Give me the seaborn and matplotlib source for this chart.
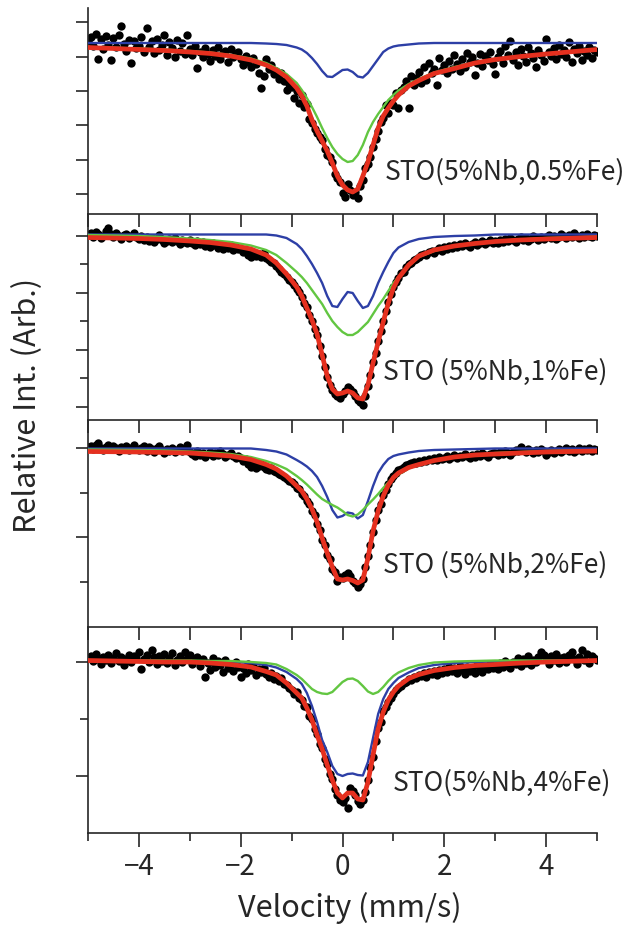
import numpy as np
import matplotlib
matplotlib.use("Agg")
import matplotlib.pyplot as plt
import seaborn as sns
from matplotlib.ticker import MultipleLocator, FixedLocator

sns.set_style("ticks")
plt.rcParams['font.family'] = ['Noto Sans CJK JP', 'DejaVu Sans']

# ---- velocity grids ----
CURVE_V = [-5.0, -4.0, -3.5, -3.0, -2.6, -2.2, -1.8, -1.5, -1.3, -1.1,
           -0.9, -0.8, -0.7, -0.6, -0.5, -0.4, -0.3, -0.2, -0.1, 0.0, 0.1,
           0.2, 0.3, 0.4, 0.5, 0.6, 0.7, 0.8, 0.9, 1.0, 1.1,
           1.3, 1.5, 1.8, 2.2, 2.6, 3.0, 3.5, 4.0, 5.0]
DATA_V = np.round(np.arange(201) * 0.05 - 5.0, 2)

LABELS = ["STO(5%Nb,0.5%Fe)", "STO (5%Nb,1%Fe)", "STO (5%Nb,2%Fe)", "STO(5%Nb,4%Fe)"]

# ---- panel 1 ----
P1_BLUE = [0, 0, 0, 0, 0, 0, 0, -0.5, -1, -2,
           -4.5, -6.5, -10, -15, -21, -28, -33.5, -34, -30.5, -27, -26.5,
           -29, -33.5, -34.5, -30, -23, -16, -9, -5.5, -3.5, -2.5,
           -1.5, -0.5, 0, 0, 0, 0, 0, 0, 0]
P1_GREEN = [-4, -5.5, -6.5, -8, -9.5, -12, -15.5, -20, -25, -31,
            -40, -47, -55, -64, -74, -85, -95, -104, -111, -116, -119,
            -118, -112, -102, -89, -79, -71, -64, -57, -52, -47.5,
            -41, -36, -29.5, -24, -19.5, -16, -13, -10.5, -6]
P1_RED = [-4.5, -6.5, -7.5, -9, -10.5, -13, -17, -22, -27, -34,
          -45, -53, -63, -77, -88, -98, -108, -120, -133, -142, -147,
          -149, -146, -133, -119, -102, -85, -73, -65, -58, -52,
          -43, -37.5, -30.5, -25.5, -20, -16.5, -13.5, -11, -6.5]
P1_DATA = [2, 6, -3, 9, -16, 4, -6, 7, -2, -17, 5, -4, 8, 17, -1, -8, 3, -20, 2, -5,
           -3, 6, -9, 15, -4, 2, -10, 4, -7, -2, 8, -12, 1, -5, -14, 3, -8, 0, -11, 8,
           -6, -12, -3, -25, -9, -14, -5, -11, -18, -7, -13, -4, -16, -10, -8, -19, -6, -14, -11, -9,
           -16, -22, -13, -19, -24, -15, -21, -30, -45, -33, -16, -26, -22, -31, -28, -36, -30, -38, -47, -41,
           -44, -55, -48, -60, -52, -64, -61, -76, -80, -86, -90, -94, -97, -106, -112, -114, -119, -131, -135, -139,
           -150, -154, -141, -147, -152, -149, -155, -143, -137, -125, -121, -114, -104, -96, -88, -79, -75, -62, -70, -60,
           -62, -50, -65, -47, -44, -38, -65, -33, -42, -35, -29, -40, -24, -37, -20, -30, -26, -42, -15, -27,
           -22, -30, -18, -26, -12, -21, -28, -16, -24, -10, -19, -14, -32, -20, -11, -23, -13, -17, -9, -21,
           -31, -14, -8, -20, -3, -12, 2, -17, -9, -22, -6, -13, -19, -4, -10, -15, -24, -7, -12, -18,
           4, -9, -13, -5, -16, -2, -11, -7, -14, 1, -19, -6, -10, -3, -17, -8, -12, -4, -15, -7, -9]

# ---- panel 2 ----
P2_BLUE = [1.5, 1.5, 1.5, 1.5, 1.5, 1.5, 1.5, 1.5, 0.5, -2,
           -8, -13, -20, -28, -37, -47, -60, -70, -71, -63, -56,
           -57, -65, -72, -70, -60, -47, -36, -26, -17, -11.5,
           -6, -3, -1, 0, 0.5, 1.5, 1.5, 1.5, 1.5]
P2_GREEN = [1, 0, -1, -2.5, -4, -6, -9.5, -14, -19, -27,
            -36, -41, -47, -54, -61, -68, -77, -85, -91, -96, -99,
            -99, -96, -91, -86, -78, -70, -63, -55, -47, -41,
            -30, -21, -15, -10, -7, -5, -3.5, -2, -0.7]
P2_RED = [-1.5, -2.5, -3.5, -5, -6.5, -9, -13, -19, -27, -38,
          -51, -60, -72, -84, -98, -119, -140, -153, -158, -157, -155,
          -157, -162, -163, -149, -127, -106, -86, -67, -52, -42,
          -29, -20, -14, -10, -7.5, -5.5, -4, -3, -1.5]
P2_DATA = [1, 3, -1, 4, 2, -2, 0, 5, 8, 2, -1, 3, 0, -3, 1, 2, -2, 0, 3, -1,
           -3, 0, -4, -1, -5, -2, -6, -3, 1, -4, -7, -5, -3, -6, -2, -5, -8, -4, -6, -7,
           -4, -7, -9, -5, -8, -6, -10, -8, -11, -7, -9, -12, -8, -13, -10, -12, -9, -14, -11, -13,
           -13, -16, -14, -19, -21, -17, -20, -18, -21, -17, -22, -24, -26, -27, -30, -33, -36, -38, -41, -44,
           -46, -49, -53, -56, -61, -67, -71, -79, -85, -93, -99, -110, -120, -131, -141, -149, -154, -158, -160, -162,
           -158, -155, -151, -153, -156, -160, -164, -166, -169, -160, -150, -139, -126, -117, -105, -95, -85, -75, -66, -58,
           -51, -46, -42, -37, -36, -31, -28, -27, -24, -23, -21, -19, -18, -19, -16, -15, -17, -14, -12, -15,
           -11, -13, -10, -12, -9, -11, -8, -10, -7, -9, -11, -8, -6, -9, -7, -5, -8, -6, -4, -7,
           -5, -7, -4, -6, -3, -5, -2, -4, -6, -3, -1, -4, -2, -5, -3, 0, -2, -4, -1, -3,
           -1, 1, -2, 0, -3, -1, 2, 0, -2, 1, -1, 3, 0, -2, 1, -1, 2, 0, -1, 1, 0]

# ---- panel 3 ----
P3_BLUE = [-0.5, -0.5, -0.5, -0.5, -0.5, -0.5, -0.5, -2, -3.5, -6.5,
           -12, -15, -18.5, -23, -29, -38, -49, -62, -69.5, -68, -64.5,
           -65.5, -70.5, -67, -53, -38, -25, -17, -11, -8, -6.5,
           -4.5, -3, -2, -1.5, -1, -0.5, -0.5, -0.5, -0.5]
P3_GREEN = [-1.5, -2, -2.5, -3.5, -4.5, -6, -9, -13, -16.5, -21,
            -28, -32, -36.5, -41.5, -46.5, -51, -54, -57, -59.5, -63, -67,
            -68.5, -66.5, -62, -56.5, -51.5, -46, -40, -34.5, -30, -26.5,
            -20.5, -16.5, -12.5, -9, -7, -5, -4, -3, -2]
P3_RED = [-3.5, -4, -4.5, -5, -6.5, -8, -11.5, -16.5, -21, -28,
          -38, -43, -51, -61, -74, -90, -105, -119, -131, -132, -131,
          -132.5, -135, -132, -110, -83, -63, -48, -37, -29.5, -25,
          -19.5, -16.5, -12.5, -9, -7, -6, -5, -4, -3]
P3_DATA = [1, 2, -1, 3, 5, 0, -2, 1, 3, -1, 2, 0, -3, 1, -1, 2, -2, 0, 3, -1,
           -2, 0, 2, -3, 1, -1, -4, 0, 2, -2, -5, -1, -3, 0, -4, -2, 1, -3, 0, 3,
           -4, -6, -8, -3, -7, -5, -9, -6, -4, -8, -5, -7, -3, -6, -9, -7, -5, -8, -10, -8,
           -10, -13, -11, -16, -19, -17, -20, -18, -16, -19, -21, -22, -20, -23, -24, -26, -27, -29, -31, -33,
           -34, -36, -40, -41, -46, -48, -53, -56, -63, -67, -76, -82, -92, -97, -107, -111, -121, -124, -133, -129,
           -130, -127, -125, -128, -133, -135, -139, -136, -131, -119, -108, -97, -84, -72, -62, -56, -47, -42, -36, -31,
           -28, -25, -22, -21, -19, -17, -16, -15, -14, -15, -13, -14, -12, -13, -11, -12, -10, -12, -9, -11,
           -10, -8, -11, -9, -7, -10, -8, -9, -6, -8, -10, -7, -9, -6, -8, -5, -7, -9, -6, -5,
           -5, -7, -4, -6, -3, -5, -7, -4, -2, -3, 1, -2, -4, -1, -3, -5, -2, -4, -1, -3,
           -7, -4, -2, -5, -3, -1, -4, -2, 0, -3, -1, -4, -2, 0, -3, -1, -2, 0, -3, -1, -2]

# ---- panel 4 ----
P4_BLUE = [0.5, 0, 0, -0.5, -0.5, -1, -2, -4, -6.5, -11,
           -18, -23, -32, -45, -61, -79, -91, -105, -113, -115, -113,
           -112.5, -114, -114.5, -101, -77, -53, -38, -28, -22, -17,
           -11.5, -7, -4, -2, -1, -0.5, 0, 0, 0.5]
P4_GREEN = [0.5, 0.5, 0.5, 0.5, 0, 0, -1, -2, -3.5, -8,
            -14, -18, -23, -28, -31, -32.5, -33, -31, -26, -21, -18,
            -17.5, -20, -25, -30.5, -33, -31, -26, -20, -15, -11.5,
            -7, -4, -1.5, -0.5, 0, 0.5, 0.5, 0.5, 0.5]
P4_RED = [0.5, -0.5, -1, -1, -2, -3.5, -6, -10.5, -14, -22,
          -32, -37, -47, -59, -74, -88, -104, -119, -132, -137, -132,
          -132, -138, -139, -121, -94, -68, -51, -39, -31, -25,
          -17.5, -13.5, -9.5, -6.5, -4.5, -3.5, -2, -1, 0.5]
P4_DATA = [3, 5, 0, 7, 2, -3, 4, 1, 6, -2, 3, 8, 0, 4, -4, 2, 6, -1, 5, 3,
           9, -8, 2, 6, -1, 11, 4, -3, 5, 0, 7, -2, 3, 8, -4, 1, 5, -1, 9, 2,
           6, -3, 1, 4, -5, 2, -16, -2, -9, 3, -6, 0, -4, -11, 1, -7, -3, -10, -1, -6,
           -16, -7, -12, -3, -9, -5, -14, -8, -11, -7, -13, -16, -12, -18, -15, -20, -17, -23, -24, -27,
           -29, -33, -31, -37, -39, -45, -46, -55, -58, -68, -73, -83, -87, -98, -103, -113, -118, -128, -134, -139,
           -141, -137, -147, -127, -130, -134, -140, -143, -139, -131, -119, -106, -96, -80, -67, -61, -50, -46, -41, -37,
           -33, -29, -27, -25, -22, -21, -18, -19, -16, -17, -14, -15, -12, -16, -11, -13, -10, -14, -9, -12,
           -8, -11, -6, -10, -7, -12, -5, -9, -13, -6, -10, -8, -12, -4, -9, -11, -6, -8, -3, -7,
           -5, -8, -2, -6, 0, -4, -7, -1, -3, 3, -5, 2, -2, 5, -4, 1, -1, 4, 9, 6,
           2, -3, 5, 1, 7, -2, 3, 4, -1, 6, 9, 2, -3, 4, 11, 1, 7, -2, 5, 3, 1]

# axis ranges / ticks per panel (arbitrary intensity units)
YLIMS = [(-171, 35), (-184, 22), (-179, 28), (-172, 34)]
YMAJ = [[21, -13.5, -48, -82, -117, -151.3], [0.3, -56.7, -114, -170.7], [0, -89], [-0.7, -114.7]]
YMIN = [[], [-28.3, -85, -142.3], [-44.5, -133.5], [-58]]
LABEL_POS = [(0.84, -129), (0.80, -136), (0.80, -117), (0.98, -122)]

panels = [(P1_DATA, P1_BLUE, P1_GREEN, P1_RED),
          (P2_DATA, P2_BLUE, P2_GREEN, P2_RED),
          (P3_DATA, P3_BLUE, P3_GREEN, P3_RED),
          (P4_DATA, P4_BLUE, P4_GREEN, P4_RED)]

W, H = 640, 926
fig = plt.figure(figsize=(W / 100, H / 100), dpi=100)
rows = [(8, 214), (214, 420), (420, 627), (627, 833)]
left, right = 88, 597

BLUE = "#2d3fa6"
GREEN = "#62c641"
RED = "#e5301f"

for i, ((top, bot), (dat, blu, grn, red)) in enumerate(zip(rows, panels)):
    ax = fig.add_axes([left / W, 1 - bot / H, (right - left) / W, (bot - top) / H])
    ax.patch.set_alpha(0)
    sns.scatterplot(x=DATA_V, y=dat, ax=ax, color="black", s=36, linewidth=0, zorder=2)
    sns.lineplot(x=CURVE_V, y=blu, ax=ax, color=BLUE, lw=1.7, estimator=None, sort=False, zorder=3)
    sns.lineplot(x=CURVE_V, y=grn, ax=ax, color=GREEN, lw=1.7, estimator=None, sort=False, zorder=3)
    sns.lineplot(x=CURVE_V, y=red, ax=ax, color=RED, lw=3.4, estimator=None, sort=False, zorder=4)
    ax.set_xlim(-5, 5)
    ax.set_ylim(*YLIMS[i])
    for s in ["top", "right"]:
        ax.spines[s].set_visible(False)
    for s in ["left", "bottom"]:
        ax.spines[s].set_linewidth(1.2)
    ax.yaxis.set_major_locator(FixedLocator(YMAJ[i]))
    ax.yaxis.set_minor_locator(FixedLocator(YMIN[i]))
    ax.tick_params(axis="y", which="major", direction="out", length=9, width=1.2, labelleft=False)
    ax.tick_params(axis="y", which="minor", direction="out", length=5.5, width=1.2)
    if i < 3:
        ax.xaxis.set_major_locator(MultipleLocator(1))
        ax.tick_params(axis="x", which="major", direction="out", length=9, width=1.2, labelbottom=False)
    else:
        ax.xaxis.set_major_locator(MultipleLocator(2))
        ax.xaxis.set_minor_locator(MultipleLocator(1))
        ax.tick_params(axis="x", which="major", direction="out", length=10, width=1.2,
                       labelsize=20, pad=4)
        ax.tick_params(axis="x", which="minor", direction="out", length=5.5, width=1.2)
    ax.set_xlabel("")
    ax.set_ylabel("")
    lx, ly = LABEL_POS[i]
    ax.text(lx, ly, LABELS[i], fontsize=19, ha="left", va="center", clip_on=False, zorder=5)

fig.text(350 / W, 1 - 908 / H, "Velocity (mm/s)", ha="center", va="center", fontsize=22)
fig.text(28 / W, 1 - 405 / H, "Relative Int. (Arb.)", ha="center", va="center",
         rotation=90, fontsize=22)

fig.savefig("out.png", dpi=100)
